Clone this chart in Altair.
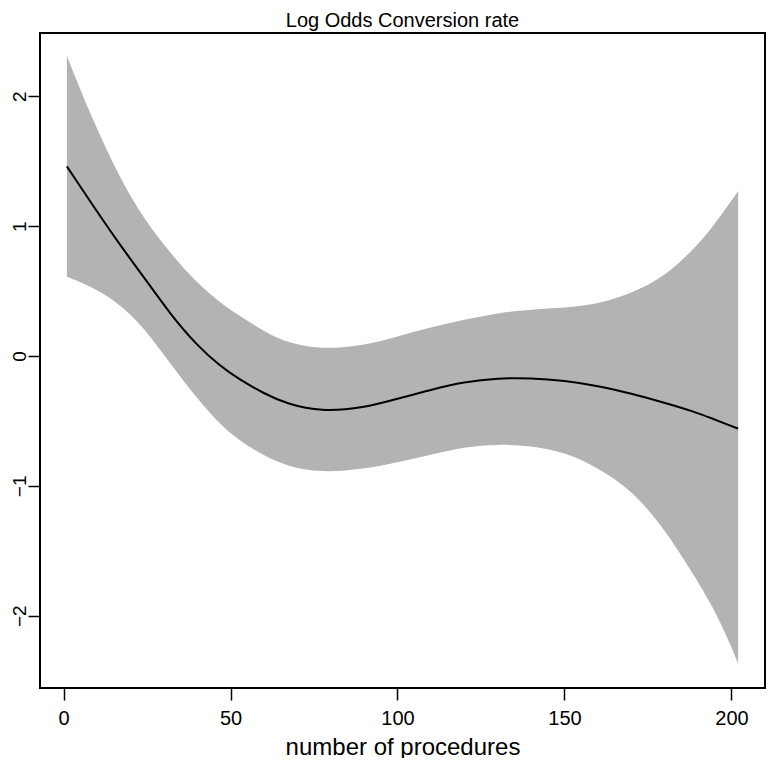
import altair as alt
import pandas as pd

x_vals = [1, 8, 17, 24, 32, 40, 47, 52, 60, 67, 77, 90, 100, 110, 120,
          130, 140, 150, 160, 170, 180, 189, 194, 199, 202]
fit = [1.46, 1.19, 0.85, 0.61, 0.32, 0.08, -0.08, -0.17, -0.29, -0.37, -0.43,
       -0.40, -0.33, -0.26, -0.20, -0.17, -0.17, -0.19, -0.23, -0.29, -0.36,
       -0.43, -0.48, -0.53, -0.56]
upper = [2.31, 1.86, 1.36, 1.06, 0.79, 0.56, 0.41, 0.32, 0.19, 0.10, 0.05,
         0.08, 0.15, 0.22, 0.28, 0.33, 0.36, 0.37, 0.40, 0.48, 0.61, 0.83,
         0.98, 1.16, 1.27]
lower = [0.61, 0.54, 0.40, 0.22, -0.06, -0.33, -0.53, -0.64, -0.77, -0.85,
         -0.90, -0.87, -0.82, -0.76, -0.70, -0.68, -0.69, -0.74, -0.86, -1.03,
         -1.33, -1.70, -1.91, -2.18, -2.37]

x_ticks = [0, 50, 100, 150, 200]
y_ticks = [-2, -1, 0, 1, 2]
main_title = ["Log Odds Conversion rate"]

df = pd.DataFrame({"x": x_vals, "fit": fit, "upper": upper, "lower": lower})
tdf = pd.DataFrame({"t": main_title})

FONT = "Liberation Sans"
W, H = 725, 655

xscale = alt.Scale(domain=[-7.04, 210.04], nice=False, zero=False)
yscale = alt.Scale(domain=[-2.557, 2.487], nice=False, zero=False)

xaxis = alt.Axis(values=x_ticks, tickSize=12, labelPadding=8, labelFontSize=20,
                 title="number of procedures", titleFontSize=24,
                 titleFontWeight="normal", titleBaseline="alphabetic", titleY=66,
                 grid=False, domain=False, format="d")
yaxis = alt.Axis(values=y_ticks, tickSize=12, labelPadding=3, labelFontSize=19,
                 labelAngle=270, labelAlign="center", labelBaseline="alphabetic",
                 title=None, grid=False, domain=False, format="d")

band = alt.Chart(df).mark_area(color="#b3b3b3", opacity=1, interpolate="basis").encode(
    x=alt.X("x:Q", scale=xscale, axis=xaxis),
    y=alt.Y("lower:Q", scale=yscale, axis=yaxis),
    y2="upper:Q",
)
line = alt.Chart(df).mark_line(color="black", strokeWidth=2, interpolate="basis").encode(
    x=alt.X("x:Q", scale=xscale),
    y=alt.Y("fit:Q", scale=yscale),
)
title = alt.Chart(tdf).mark_text(font=FONT, fontSize=20, baseline="alphabetic",
                                 align="center", color="black").encode(
    text="t:N", x=alt.value(W / 2), y=alt.value(-6)
)

chart = alt.layer(band, line, title).properties(
    width=W,
    height=H,
    autosize=alt.AutoSizeParams(type="none"),
    padding={"left": 32, "top": 25, "right": 1, "bottom": 70},
).configure(
    background="white"
).configure_view(
    stroke="black", strokeWidth=2
).configure_axis(
    labelFont=FONT, titleFont=FONT, labelColor="black", titleColor="black",
    tickColor="black", tickWidth=1.5
)

chart.save("out.html", embed_options={"renderer": "svg", "actions": False})
